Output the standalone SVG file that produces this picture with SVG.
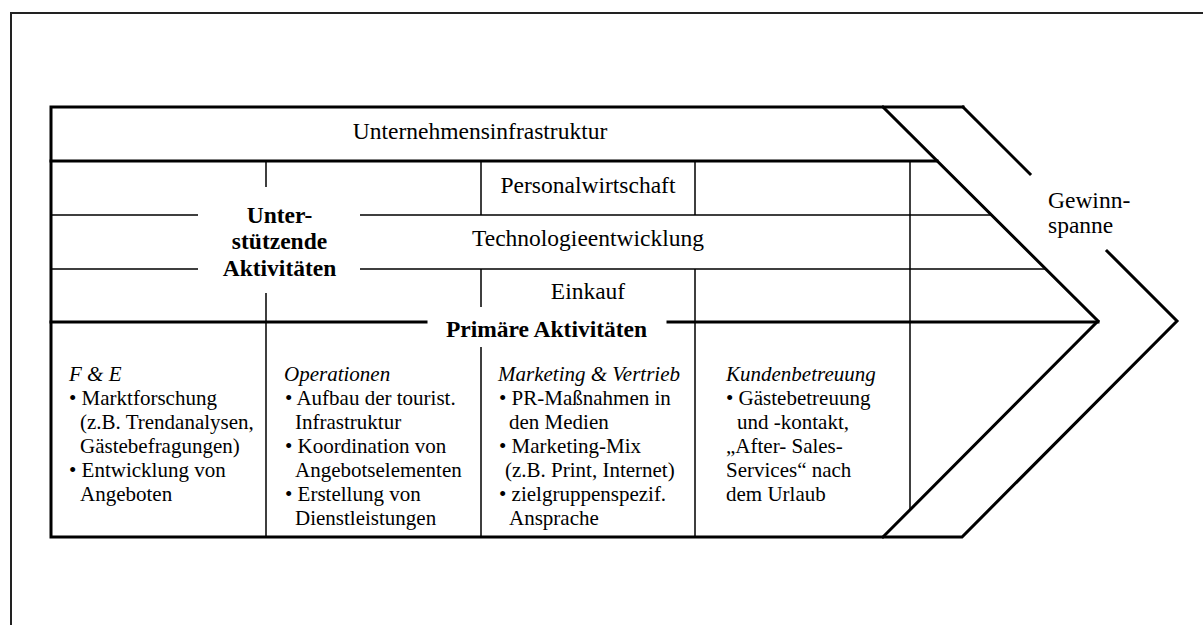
<svg xmlns="http://www.w3.org/2000/svg" width="1203" height="625" viewBox="0 0 1203 625">
  <style>
    .frame { fill: none; stroke: #222; stroke-width: 2; }
    .thick { fill: none; stroke: #000; stroke-width: 3; stroke-linecap: square; }
    .thin { fill: none; stroke: #000; stroke-width: 1.5; }
    text { font-family: 'Liberation Serif', 'Times New Roman', serif; fill: #000; }
    .lbl { font-size: 23.5px; }
    .mid { text-anchor: middle; }
    .bold { font-size: 23.5px; font-weight: bold; text-anchor: middle; }
    .col { font-size: 21px; }
    .head { font-style: italic; }
  </style>
  <rect width="1203" height="625" fill="#fff"/>

  <!-- page frame -->
  <g id="page-frame">
    <path class="frame" d="M11,625 V13 H1203"/>
  </g>

  <!-- value chain outline, rows and columns -->
  <g id="connectors">
    <!-- outer arrow outline, open where the margin label sits -->
    <path class="thick" d="M963,107 H51 V537 H962 L1177,321 L1107,251"/>
    <path class="thick" d="M963,107 L1030,174"/>
    <!-- inner chevron -->
    <path class="thick" d="M883,107 L1098,321 L883,537"/>
    <!-- row separators -->
    <path class="thick" d="M51,161 H937"/>
    <path class="thin" d="M51,215 H198 M360,215 H991"/>
    <path class="thin" d="M51,269 H198 M360,269 H1045"/>
    <path class="thick" d="M51,322 H426 M668,322 H1098"/>
    <!-- column separators -->
    <path class="thin" d="M266,161 V187 M266,293 V537"/>
    <path class="thin" d="M481,161 V215 M481,269 V307 M481,347 V537"/>
    <path class="thin" d="M695,161 V215 M695,269 V537"/>
    <path class="thin" d="M910,161 V509"/>
  </g>

  <!-- support activities -->
  <g id="infrastruktur">
    <text class="lbl mid" x="480" y="139">Unternehmensinfrastruktur</text>
  </g>
  <g id="personal">
    <text class="lbl mid" x="588" y="193">Personalwirtschaft</text>
  </g>
  <g id="technologie">
    <text class="lbl mid" x="588" y="246">Technologieentwicklung</text>
  </g>
  <g id="einkauf">
    <text class="lbl mid" x="588" y="299">Einkauf</text>
  </g>
  <g id="unterstuetzende">
    <text class="bold" x="279.5" y="223">Unter-</text>
    <text class="bold" x="279.5" y="249">stützende</text>
    <text class="bold" x="279.5" y="276">Aktivitäten</text>
  </g>
  <g id="primaer">
    <text class="bold" x="546.5" y="337">Primäre Aktivitäten</text>
  </g>
  <g id="gewinnspanne">
    <text class="lbl" x="1048" y="208">Gewinn-</text>
    <text class="lbl" x="1048" y="233">spanne</text>
  </g>

  <!-- primary activity columns -->
  <g id="fue">
    <text class="col head" x="69" y="381">F &amp; E</text>
    <text class="col" x="69" y="405">• Marktforschung</text>
    <text class="col" x="80" y="429">(z.B. Trendanalysen,</text>
    <text class="col" x="80" y="453">Gästebefragungen)</text>
    <text class="col" x="69" y="477">• Entwicklung von</text>
    <text class="col" x="80" y="501">Angeboten</text>
  </g>
  <g id="operationen">
    <text class="col head" x="284" y="381">Operationen</text>
    <text class="col" x="285" y="405">• Aufbau der tourist.</text>
    <text class="col" x="295" y="429">Infrastruktur</text>
    <text class="col" x="285" y="453">• Koordination von</text>
    <text class="col" x="295" y="477">Angebotselementen</text>
    <text class="col" x="285" y="501">• Erstellung von</text>
    <text class="col" x="295" y="525">Dienstleistungen</text>
  </g>
  <g id="marketing">
    <text class="col head" x="498" y="381">Marketing &amp; Vertrieb</text>
    <text class="col" x="499" y="405">• PR-Maßnahmen in</text>
    <text class="col" x="509" y="429">den Medien</text>
    <text class="col" x="499" y="453">• Marketing-Mix</text>
    <text class="col" x="505" y="477">(z.B. Print, Internet)</text>
    <text class="col" x="499" y="501">• zielgruppenspezif.</text>
    <text class="col" x="509" y="525">Ansprache</text>
  </g>
  <g id="kundenbetreuung">
    <text class="col head" x="726" y="381">Kundenbetreuung</text>
    <text class="col" x="726" y="405">• Gästebetreuung</text>
    <text class="col" x="737" y="429">und -kontakt,</text>
    <text class="col" x="726" y="453">„After- Sales-</text>
    <text class="col" x="726" y="477">Services“ nach</text>
    <text class="col" x="726" y="501">dem Urlaub</text>
  </g>
</svg>
